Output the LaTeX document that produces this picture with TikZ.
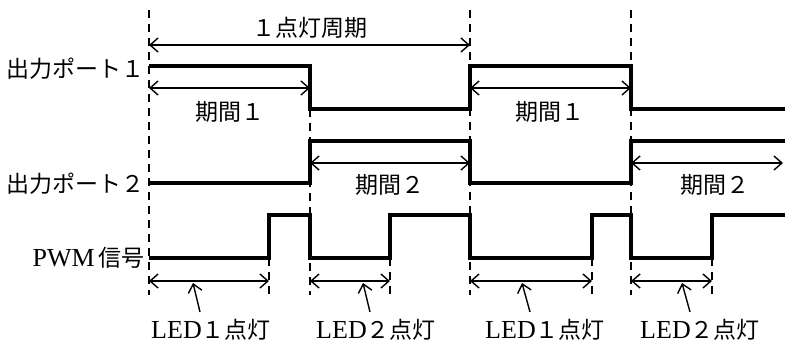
\documentclass[tikz,border=0pt]{standalone}
\usepackage{fontspec}
\setmainfont{Liberation Serif}
\newfontfamily\jp{Noto Sans CJK JP}
\usetikzlibrary{arrows.meta}

\newcommand\latn[1]{{\fontsize{13}{15}\selectfont #1}}

\tikzset{
  signal/.style={line width=2pt},
  guide/.style={line width=0.7pt, dash pattern=on 4pt off 3pt},
  dim/.style={line width=0.7pt, {Straight Barb[length=4pt,width=7pt]}-{Straight Barb[length=4pt,width=7pt]}},
  pointer/.style={line width=0.7pt, -{Straight Barb[length=4pt,width=7pt]}},
  lbl/.style={font=\fontsize{11.5}{13}\selectfont, inner sep=0pt},
}

\begin{document}
\begin{tikzpicture}[x=0.5pt,y=-0.5pt]
\useasboundingbox (0,0) rectangle (785,345);

% time points
\foreach \n/\x in {0/149,1/269,2/310,3/390,4/470,5/592,6/631,7/712,8/783}
  \coordinate (t\n) at (\x,0);

% guide lines
\draw[guide] (149,10) -- (149,295);
\draw[guide] (310,109) -- (310,295);
\draw[guide] (470,10) -- (470,295);
\draw[guide] (631,10) -- (631,295);
\foreach \x in {269,390,592,712}
  \draw[guide] (\x,258) -- (\x,295);

% row labels
\node[lbl,anchor=east] (port1) at (145,69) {\jp 出力ポート１};
\node[lbl,anchor=east] (port2) at (145,184) {\jp 出力ポート２};
\node[lbl,anchor=east] (pwm) at (145,258) {\latn{PWM}\,{\jp 信号}};

% signals
\draw[signal] (149,66) -- (310,66) -- (310,109) -- (470,109) -- (470,66)
  -- (631,66) -- (631,109) -- (785,109);
\draw[signal] (149,183) -- (310,183) -- (310,141) -- (470,141) -- (470,183)
  -- (631,183) -- (631,141) -- (785,141);
\draw[signal] (149,258) -- (269,258) -- (269,215) -- (310,215) -- (310,258)
  -- (390,258) -- (390,215) -- (470,215) -- (470,258) -- (592,258)
  -- (592,215) -- (631,215) -- (631,258) -- (712,258) -- (712,215) -- (785,215);

% periods
\draw[dim] (t0 |- 0,45) -- (t4 |- 0,45);
\node[lbl] (cycle) at (310,28) {\jp １点灯周期};

\draw[dim] (t0 |- 0,88) -- (t2 |- 0,88);
\node[lbl] (per1a) at (230,112) {\jp 期間１};
\draw[dim] (t4 |- 0,88) -- (t6 |- 0,88);
\node[lbl] (per1b) at (550,112) {\jp 期間１};

\draw[dim] (t2 |- 0,163) -- (t4 |- 0,163);
\node[lbl] (per2a) at (390,185) {\jp 期間２};
\draw[dim] (t6 |- 0,163) -- (t8 |- 0,163);
\node[lbl] (per2b) at (715,185) {\jp 期間２};

% LED on times
\draw[dim] (t0 |- 0,281) -- (t1 |- 0,281);
\draw[dim] (t2 |- 0,281) -- (t3 |- 0,281);
\draw[dim] (t4 |- 0,281) -- (t5 |- 0,281);
\draw[dim] (t6 |- 0,281) -- (t7 |- 0,281);

\node[lbl] (led1a) at (211,330) {\latn{LED}{\jp １点灯}};
\node[lbl] (led2a) at (376,330) {\latn{LED}{\jp ２点灯}};
\node[lbl] (led1b) at (545,330) {\latn{LED}{\jp １点灯}};
\node[lbl] (led2b) at (700,330) {\latn{LED}{\jp ２点灯}};

\coordinate (p1) at (193,283);
\coordinate (p2) at (363,283);
\coordinate (p3) at (522,283);
\coordinate (p4) at (682,283);
\draw[pointer] (200,312) -- (p1);
\draw[pointer] (370,312) -- (p2);
\draw[pointer] (530,312) -- (p3);
\draw[pointer] (690,312) -- (p4);

\end{tikzpicture}
\end{document}
